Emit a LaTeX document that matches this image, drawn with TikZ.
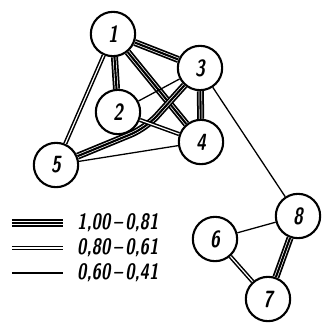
\documentclass[tikz,border=0pt]{standalone}
\usepackage{tikz}
\usepackage{graphicx}
\tikzset{
  vertex/.style={circle,draw,line width=1.8pt,fill=white,minimum size=1.33cm,inner sep=0pt,
    font=\sffamily\bfseries\itshape\fontsize{20}{24}\selectfont},
  linkA/.style={draw,line width=6pt,postaction={draw=white,line width=0.6pt,double=black,double distance=1.8pt}},
  linkB/.style={draw,line width=1.3pt,double distance=1pt},
  linkC/.style={draw,line width=1.1pt},
  legtext/.style={anchor=west,inner sep=0pt,font=\sffamily\bfseries\itshape\fontsize{19}{23}\selectfont}
}
\newcommand{\narrow}[1]{\scalebox{0.76}[1]{#1}}
\begin{document}
\begin{tikzpicture}[x=0.03cm,y=-0.03cm]
\useasboundingbox (0,0) rectangle (324,323);
% vertices
\node[vertex] (n1) at (113,34) {\narrow{1}};
\node[vertex] (n2) at (118,112) {\narrow{2}};
\node[vertex] (n3) at (200,68) {\narrow{3}};
\node[vertex] (n4) at (201,142) {\narrow{4}};
\node[vertex] (n5) at (56,165) {\narrow{5}};
\node[vertex] (n6) at (215,239) {\narrow{6}};
\node[vertex] (n7) at (268,299) {\narrow{7}};
\node[vertex] (n8) at (298,216) {\narrow{8}};
\coordinate (bend) at (146,128);
% links
\draw[linkA] (n1) -- (n2);
\draw[linkA] (n1) -- (n3);
\draw[linkA] (n1) -- (n4);
\draw[linkA] (n3) -- (n4);
\draw[linkA,rounded corners=14pt] (n3) -- (bend) -- (n5);
\draw[linkA] (n7) -- (n8);
\draw[linkB] (n1) -- (n5);
\draw[linkB] (n2) -- (n4);
\draw[linkB] (n6) -- (n7);
\draw[linkC] (n2) -- (n3);
\draw[linkC] (n4) -- (n5);
\draw[linkC] (n3) -- (n8);
\draw[linkC] (n6) -- (n8);
% legend
\coordinate (la1) at (12,223); \coordinate (la2) at (63,223);
\coordinate (lb1) at (12,248); \coordinate (lb2) at (63,248);
\coordinate (lc1) at (12,273); \coordinate (lc2) at (63,273);
\draw[linkA] (la1) -- (la2);
\draw[linkB] (lb1) -- (lb2);
\draw[linkC] (lc1) -- (lc2);
\node[legtext] (ta) at (77,223) {\narrow{1,00\,--\,0,81}};
\node[legtext] (tb) at (77,248) {\narrow{0,80\,--\,0,61}};
\node[legtext] (tc) at (77,273) {\narrow{0,60\,--\,0,41}};
\end{tikzpicture}
\end{document}
